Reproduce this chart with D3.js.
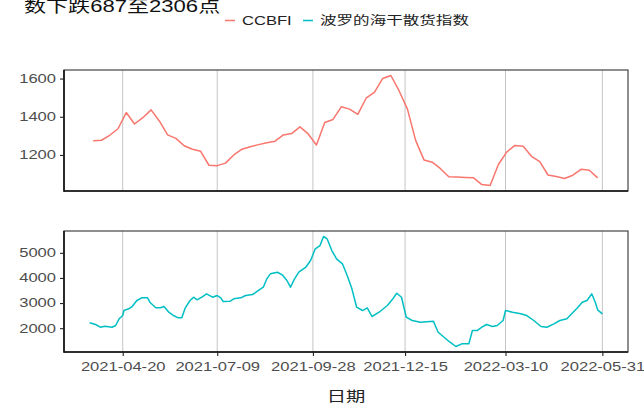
<!DOCTYPE html>
<html><head><meta charset="utf-8">
<script src="https://cdn.jsdelivr.net/npm/d3@7"></script>
<style>body{margin:0;background:#fff}svg{display:block}</style>
</head><body>
<svg id="c" width="644" height="408"></svg>
<script>
// ---- data ----
const titleText = "数下跌687至2306点";
const seriesNames = ["CCBFI", "波罗的海干散货指数"];
const ccbfiDates = ["2021-03-26","2021-04-02","2021-04-09","2021-04-16","2021-04-23","2021-04-30","2021-05-07","2021-05-14","2021-05-21","2021-05-28","2021-06-04","2021-06-11","2021-06-18","2021-06-25","2021-07-02","2021-07-09","2021-07-16","2021-07-23","2021-07-30","2021-08-06","2021-08-13","2021-08-20","2021-08-27","2021-09-03","2021-09-10","2021-09-17","2021-09-24","2021-10-01","2021-10-08","2021-10-15","2021-10-22","2021-10-29","2021-11-05","2021-11-12","2021-11-19","2021-11-26","2021-12-03","2021-12-10","2021-12-17","2021-12-24","2021-12-31","2022-01-07","2022-01-14","2022-01-21","2022-01-28","2022-02-04","2022-02-11","2022-02-18","2022-02-25","2022-03-04","2022-03-11","2022-03-18","2022-03-25","2022-04-01","2022-04-08","2022-04-15","2022-04-22","2022-04-29","2022-05-06","2022-05-13","2022-05-20","2022-05-27"];
const ccbfiValues = [1274,1277,1303,1337,1422,1362,1395,1436,1378,1305,1287,1248,1230,1219,1146,1144,1157,1200,1230,1243,1254,1264,1272,1305,1312,1347,1310,1252,1370,1386,1452,1440,1412,1497,1528,1600,1616,1535,1440,1275,1174,1162,1128,1086,1084,1082,1080,1045,1040,1150,1215,1250,1245,1193,1165,1095,1087,1077,1094,1125,1120,1080];
const bdiDates = ["2021-03-23","2021-03-28","2021-04-01","2021-04-05","2021-04-11","2021-04-14","2021-04-17","2021-04-20","2021-04-21","2021-04-25","2021-04-28","2021-05-02","2021-05-06","2021-05-11","2021-05-13","2021-05-18","2021-05-22","2021-05-25","2021-05-29","2021-06-02","2021-06-06","2021-06-09","2021-06-12","2021-06-16","2021-06-19","2021-06-22","2021-06-26","2021-06-30","2021-07-05","2021-07-09","2021-07-12","2021-07-14","2021-07-20","2021-07-23","2021-07-29","2021-08-02","2021-08-08","2021-08-12","2021-08-17","2021-08-20","2021-08-23","2021-08-29","2021-09-02","2021-09-06","2021-09-09","2021-09-12","2021-09-16","2021-09-22","2021-09-26","2021-09-30","2021-10-04","2021-10-07","2021-10-10","2021-10-14","2021-10-18","2021-10-23","2021-10-27","2021-10-31","2021-11-04","2021-11-09","2021-11-13","2021-11-17","2021-11-23","2021-11-30","2021-12-04","2021-12-08","2021-12-12","2021-12-16","2021-12-21","2021-12-28","2022-01-08","2022-01-12","2022-01-17","2022-01-22","2022-01-27","2022-02-01","2022-02-07","2022-02-10","2022-02-14","2022-02-18","2022-02-22","2022-02-27","2022-03-03","2022-03-08","2022-03-10","2022-03-16","2022-03-23","2022-03-28","2022-04-03","2022-04-09","2022-04-14","2022-04-20","2022-04-25","2022-05-01","2022-05-05","2022-05-10","2022-05-14","2022-05-18","2022-05-22","2022-05-25","2022-05-27","2022-05-31"];
const bdiValues = [2214,2146,2039,2079,2039,2107,2373,2504,2703,2771,2863,3102,3209,3209,3034,2811,2811,2863,2636,2504,2413,2413,2811,3102,3233,3129,3233,3368,3233,3301,3209,3062,3074,3169,3209,3301,3340,3472,3631,3965,4164,4228,4124,3898,3631,3925,4228,4427,4694,5159,5290,5650,5557,5092,4761,4562,4097,3567,2835,2703,2811,2465,2636,2903,3129,3392,3233,2437,2306,2238,2278,1840,1641,1442,1271,1378,1378,1907,1907,2039,2146,2066,2107,2306,2703,2636,2572,2504,2306,2066,2039,2174,2306,2373,2572,2811,3034,3102,3368,3034,2731,2572];
const xTickLabels = ["2021-04-20","2021-07-09","2021-09-28","2021-12-15","2022-03-10","2022-05-31"];
const yTicksTop = [1200,1400,1600];
const yTicksBottom = [2000,3000,4000,5000];
const xLabel = "日期";

// ---- drawing ----
const parse = d3.timeParse("%Y-%m-%d");
const fmt = d3.timeFormat("%Y-%m-%d");
const SX = 1.38;
const FONT = "'Liberation Sans', Arial, 'Noto Sans CJK SC', sans-serif";
const colors = ["#F8766D", "#00BFC4"];
const svg = d3.select("#c").attr("font-family", FONT);

const L = 64, R = 628;
const panels = [
  {top:70, bottom:191, dates:ccbfiDates, values:ccbfiValues, ticks:yTicksTop, color:colors[0], xaxis:false},
  {top:231, bottom:352, dates:bdiDates, values:bdiValues, ticks:yTicksBottom, color:colors[1], xaxis:true}
];

const allDates = ccbfiDates.concat(bdiDates).map(parse);
const xExt = d3.extent(allDates);
const span = xExt[1] - xExt[0];
const x = d3.scaleTime()
  .domain([new Date(+xExt[0] - span*0.05), new Date(+xExt[1] + span*0.05)])
  .range([L, R]);
const xTicks = xTickLabels.map(parse);

function stretchText(sel, size, fill) {
  sel.attr("font-size", size).attr("fill", fill).attr("font-family", FONT);
}

panels.forEach(p => {
  const ext = d3.extent(p.values);
  const pad = (ext[1]-ext[0])*0.05;
  const y = d3.scaleLinear().domain([ext[0]-pad, ext[1]+pad]).range([p.bottom, p.top]);
  const g = svg.append("g");
  g.selectAll("line.grid").data(xTicks).join("line")
    .attr("x1", d=>x(d)).attr("x2", d=>x(d))
    .attr("y1", p.top).attr("y2", p.bottom)
    .attr("stroke", "#c4c4c4").attr("stroke-width", 1);
  const pts = p.dates.map((d,i)=>({d:parse(d), v:p.values[i]}));
  g.append("path").datum(pts)
    .attr("fill","none").attr("stroke", p.color).attr("stroke-width", 1.5)
    .attr("stroke-linejoin","round")
    .attr("d", d3.line().x(d=>x(d.d)).y(d=>y(d.v)));
  g.append("rect").attr("x", L).attr("y", p.top).attr("width", R-L).attr("height", p.bottom-p.top)
    .attr("fill","none").attr("stroke","#444").attr("stroke-width",1.2);
  g.append("line").attr("x1",L).attr("x2",L).attr("y1",p.top).attr("y2",p.bottom+0.8).attr("stroke","#111").attr("stroke-width",1.6);
  g.append("line").attr("x1",L).attr("x2",R).attr("y1",p.bottom).attr("y2",p.bottom).attr("stroke","#111").attr("stroke-width",1.6);
  const ya = svg.append("g").attr("transform", `translate(${L},0)`)
    .call(d3.axisLeft(y).tickValues(p.ticks).tickSize(4).tickPadding(0).tickFormat(d3.format("d")));
  ya.select(".domain").remove();
  ya.selectAll(".tick line").attr("stroke","#222").attr("stroke-width",1.1);
  ya.selectAll(".tick text").attr("x", -8/SX).attr("transform", `scale(${SX},1)`).call(stretchText, 12, "#4d4d4d");
  if (p.xaxis) {
    const xa = svg.append("g").attr("transform", `translate(0,${p.bottom})`)
      .call(d3.axisBottom(x).tickValues(xTicks).tickSize(4).tickPadding(6).tickFormat(fmt));
    xa.select(".domain").remove();
    xa.selectAll(".tick line").attr("stroke","#222").attr("stroke-width",1.1);
    xa.selectAll(".tick text").attr("transform", `scale(${SX},1)`).call(stretchText, 12, "#4d4d4d");
  }
});

function addText(xp, yp, s, size, anchor, fill) {
  return svg.append("text").attr("transform", `translate(${xp},${yp}) scale(${SX},1)`)
    .attr("text-anchor", anchor).attr("font-size", size).attr("fill", fill).text(s);
}
addText(24, 11.5, titleText, 16, "start", "#111");
addText((L+R)/2, 401, xLabel, 14, "middle", "#222");

const lg = svg.append("g");
const legendItems = [{x:225, name:seriesNames[0], c:colors[0]}, {x:303, name:seriesNames[1], c:colors[1]}];
legendItems.forEach(it => {
  lg.append("line").attr("x1", it.x).attr("x2", it.x+10).attr("y1", 20.5).attr("y2", 20.5)
    .attr("stroke", it.c).attr("stroke-width", 1.5);
  lg.append("text").attr("transform", `translate(${it.x+17},25) scale(${SX},1)`)
    .attr("font-size", 12).attr("fill", "#222").text(it.name);
});
</script>
</body></html>
